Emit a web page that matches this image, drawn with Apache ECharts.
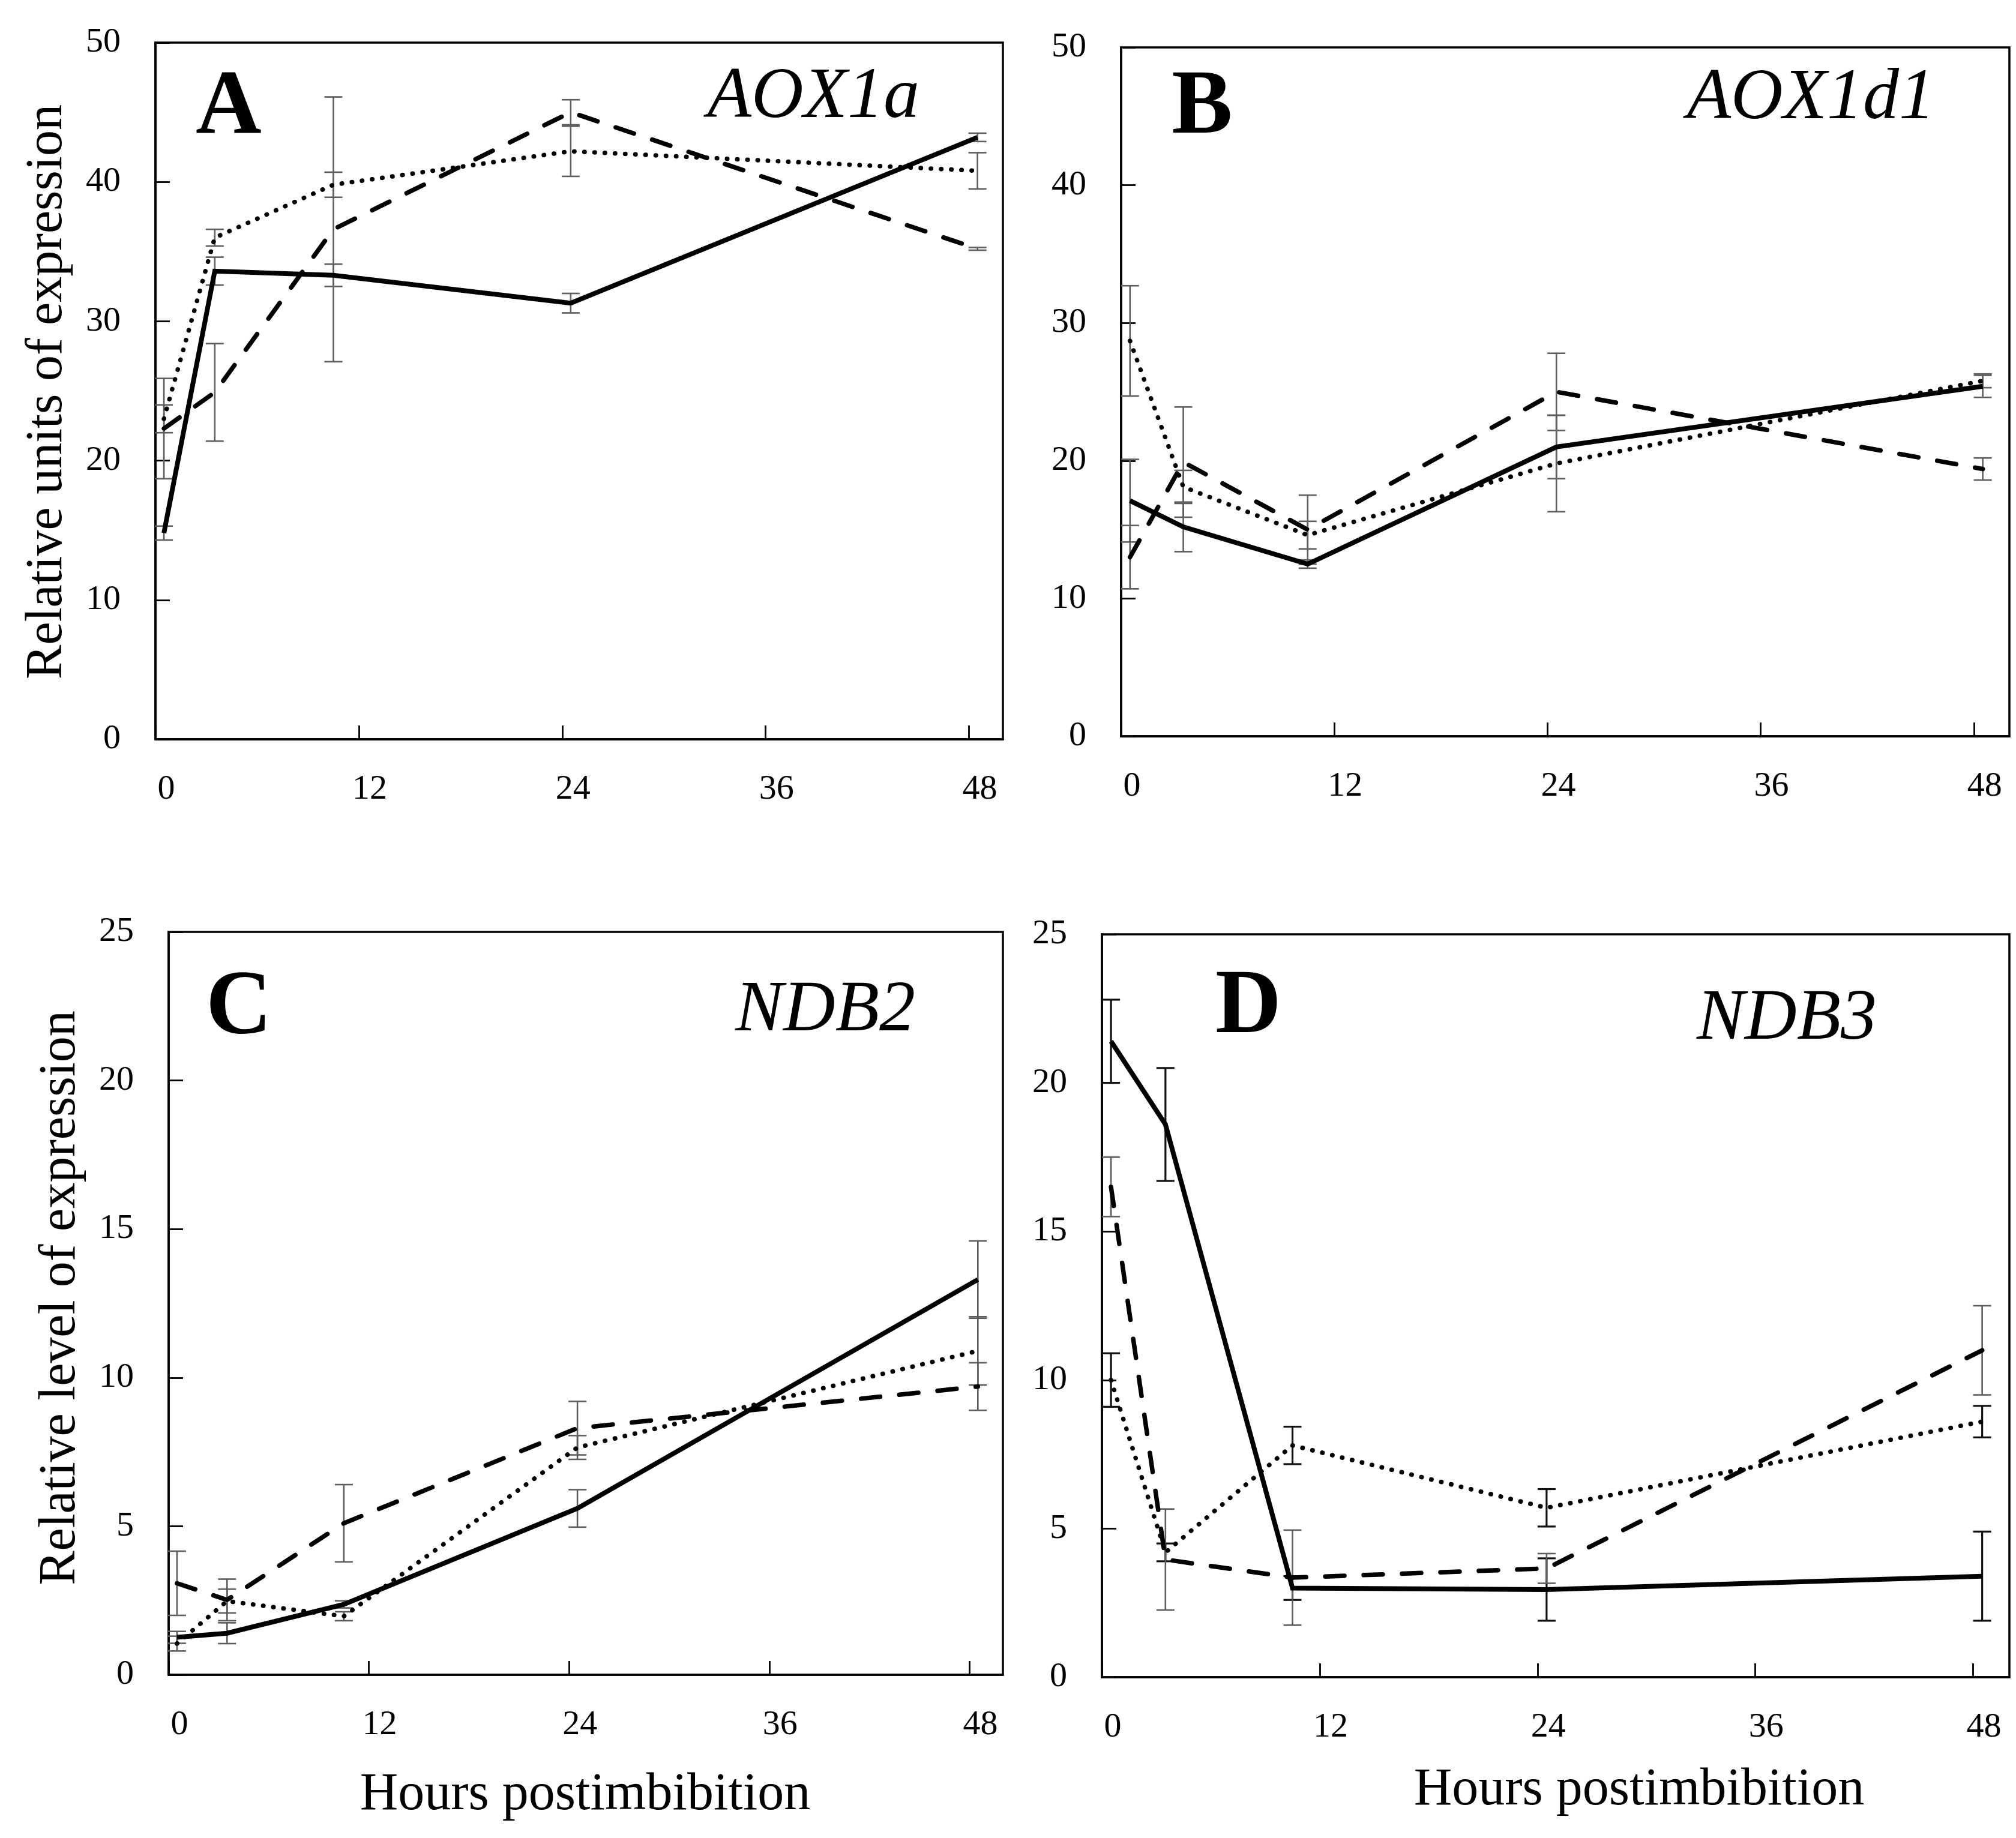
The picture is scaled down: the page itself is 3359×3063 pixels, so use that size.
<!DOCTYPE html>
<html><head><meta charset="utf-8">
<script src="https://cdn.jsdelivr.net/npm/echarts@6/dist/echarts.min.js"></script>
<style>html,body{margin:0;padding:0;background:#fff}#c{width:3359px;height:3063px}</style>
</head><body><div id="c"></div><script>
// sampling times (hours postimbibition, as placed in the figure)
const hours = [0.5, 3.5, 10.5, 24.5, 48.5];
const panelLetters = ['A', 'B', 'C', 'D'];
const geneNames = ['AOX1a', 'AOX1d1', 'NDB2', 'NDB3'];
const yNames = ['Relative units of expression', 'Relative level of expression'];
const xName = 'Hours postimbibition';

// Panel A – AOX1a
const aSolid = [14.8, 33.6, 33.3, 31.3, 43.2];
const aSolidErr = [0.5, 1.0, 0.8, 0.7, 0.3];
const aDotted = [23.0, 36.0, 39.8, 42.2, 40.8];
const aDottedErr = [1.0, 0.6, 0.9, 1.8, 1.3];
const aDashed = [22.3, 24.9, 36.6, 45.0, 35.2];
const aDashedErr = [3.6, 3.5, 9.5, 0.9, 0.1];
// Panel B – AOX1d1
const bSolid = [17.1, 15.2, 12.5, 21.0, 25.4];
const bSolidErr = [3.0, 1.8, 0.3, 2.3, 0.8];
const bDotted = [28.7, 18.1, 14.6, 19.8, 25.8];
const bDottedErr = [4.0, 1.2, 1.0, 3.5, 0.5];
const bDashed = [13.0, 19.9, 15.0, 25.0, 19.4];
const bDashedErr = [2.3, 4.0, 2.5, 2.8, 0.8];
// Panel C – NDB2
const cSolid = [1.26, 1.4, 2.37, 5.6, 13.3];
const cSolidErr = [0.2, 0.35, 0.12, 0.63, 1.3];
const cDotted = [1.05, 2.48, 1.97, 7.65, 10.9];
const cDottedErr = [0.25, 0.4, 0.15, 0.4, 1.15];
const cDashed = [3.08, 2.52, 5.1, 8.3, 9.7];
const cDashedErr = [1.08, 0.7, 1.3, 0.9, 0.8];
// Panel D – NDB3
const dSolid = [21.4, 18.6, 3.0, 2.95, 3.4];
const dSolidErr = [1.4, 1.9, 0.4, 1.05, 1.5];
const dDotted = [10.0, 4.2, 7.8, 5.7, 8.6];
const dDottedErr = [0.9, 0.3, 0.63, 0.63, 0.53];
const dDashed = [16.5, 3.96, 3.35, 3.66, 11.0];
const dDashedErr = [1.0, 1.7, 1.6, 0.5, 1.5];

const panels = [
  {solid: aSolid, solidErr: aSolidErr, dotted: aDotted, dottedErr: aDottedErr, dashed: aDashed, dashedErr: aDashedErr, yMax: 50, yInt: 10},
  {solid: bSolid, solidErr: bSolidErr, dotted: bDotted, dottedErr: bDottedErr, dashed: bDashed, dashedErr: bDashedErr, yMax: 50, yInt: 10},
  {solid: cSolid, solidErr: cSolidErr, dotted: cDotted, dottedErr: cDottedErr, dashed: cDashed, dashedErr: cDashedErr, yMax: 25, yInt: 5},
  {solid: dSolid, solidErr: dSolidErr, dotted: dDotted, dottedErr: dDottedErr, dashed: dDashed, dashedErr: dDashedErr, yMax: 25, yInt: 5}
];

const FONT = 'Liberation Serif';
const grids = [
  {left: 259, top: 71, width: 1412, height: 1161},
  {left: 1868, top: 79, width: 1480, height: 1148},
  {left: 281, top: 1553, width: 1390, height: 1238},
  {left: 1836, top: 1557, width: 1512, height: 1238}
];
const GRAY = '#5e5e5e';

function errSeries(idx, vals, errs, color, width) {
  return {
    type: 'custom', xAxisIndex: idx, yAxisIndex: idx, z: 1, silent: true,
    data: hours.map((h, i) => [h, vals[i] - errs[i], vals[i] + errs[i]]),
    encode: {x: 0, y: [1, 2]},
    renderItem: function (params, api) {
      const lo = api.coord([api.value(0), api.value(1)]);
      const hi = api.coord([api.value(0), api.value(2)]);
      const w = 15;
      const st = {stroke: color, lineWidth: width};
      return {type: 'group', children: [
        {type: 'line', shape: {x1: lo[0], y1: lo[1], x2: hi[0], y2: hi[1]}, style: st},
        {type: 'line', shape: {x1: lo[0] - w, y1: lo[1], x2: lo[0] + w, y2: lo[1]}, style: st},
        {type: 'line', shape: {x1: hi[0] - w, y1: hi[1], x2: hi[0] + w, y2: hi[1]}, style: st}
      ]};
    }
  };
}
function lineSeries(idx, vals, type) {
  let ls = {color: '#000', width: 8, type: 'solid', join: 'miter'};
  if (type === 'dotted') ls = {color: '#000', width: 7.5, type: [0.5, 16.5], cap: 'round'};
  if (type === 'dashed') ls = {color: '#000', width: 7.5, type: [32, 32], cap: 'round'};
  return {
    type: 'line', xAxisIndex: idx, yAxisIndex: idx, z: 3, silent: true,
    showSymbol: false, smooth: false,
    data: hours.map((h, i) => [h, vals[i]]),
    lineStyle: ls
  };
}

const series = [];
panels.forEach((p, i) => {
  const dark = i === 3 ? '#111' : GRAY;
  const w = i === 3 ? 3.2 : 2.6;
  series.push(errSeries(i, p.solid, p.solidErr, dark, w));
  series.push(errSeries(i, p.dotted, p.dottedErr, dark, w));
  series.push(errSeries(i, p.dashed, p.dashedErr, GRAY, 2.6));
  series.push(lineSeries(i, p.dashed, 'dashed'));
  series.push(lineSeries(i, p.dotted, 'dotted'));
  series.push(lineSeries(i, p.solid, 'solid'));
});

const xAxes = grids.map((g, i) => ({
  gridIndex: i, type: 'value', min: 0, max: 50, interval: 12,
  axisLine: {show: true, onZero: false, lineStyle: {color: '#000', width: 3.5}},
  axisTick: {show: true, inside: true, length: 23, lineStyle: {color: '#000', width: 2.8}},
  axisLabel: {showMaxLabel: false, fontFamily: FONT, fontSize: 58, color: '#000', margin: 55, padding: [0, 0, 0, 36]},
  splitLine: {show: false}
}));
const yAxes = grids.map((g, i) => ({
  gridIndex: i, type: 'value', min: 0, max: panels[i].yMax, interval: panels[i].yInt,
  axisLine: {show: true, lineStyle: {color: '#000', width: 3.5}},
  axisTick: {show: true, inside: true, length: 24, lineStyle: {color: '#000', width: 2.8}},
  axisLabel: {fontFamily: FONT, fontSize: 58, color: '#000', margin: 58},
  splitLine: {show: false}
}));

function txt(x, y, text, size, opts) {
  opts = opts || {};
  return {
    type: 'text', x: x, y: y, rotation: opts.rot || 0, z: 10,
    style: {text: text, fontFamily: FONT, fontSize: size, fontWeight: opts.bold ? 'bold' : 'normal',
      fontStyle: opts.italic ? 'italic' : 'normal', fill: '#000',
      textAlign: opts.align || 'center', textVerticalAlign: 'middle'}
  };
}

const graphic = [
  txt(381, 182, panelLetters[0], 152, {bold: true}),
  txt(2003, 182, panelLetters[1], 152, {bold: true}),
  txt(398, 1683, panelLetters[2], 152, {bold: true}),
  txt(2080, 1681, panelLetters[3], 152, {bold: true}),
  txt(1532, 163, geneNames[0], 120, {italic: true, align: 'right'}),
  txt(3224, 165, geneNames[1], 120, {italic: true, align: 'right'}),
  txt(1225, 1685, geneNames[2], 120, {italic: true, align: 'left'}),
  txt(2827, 1699, geneNames[3], 120, {italic: true, align: 'left'}),
  txt(79, 653, yNames[0], 86, {rot: Math.PI / 2}),
  txt(101, 2163, yNames[1], 86, {rot: Math.PI / 2}),
  txt(975, 2992, xName, 88),
  txt(2731, 2984, xName, 88)
];

const chart = echarts.init(document.getElementById('c'), null, {renderer: 'canvas'});
chart.setOption({
  backgroundColor: '#fff',
  animation: false,
  grid: grids.map(g => Object.assign({show: true, borderColor: '#000', borderWidth: 3.5, backgroundColor: 'transparent', containLabel: false}, g)),
  xAxis: xAxes,
  yAxis: yAxes,
  series: series,
  graphic: graphic
});
</script></body></html>
